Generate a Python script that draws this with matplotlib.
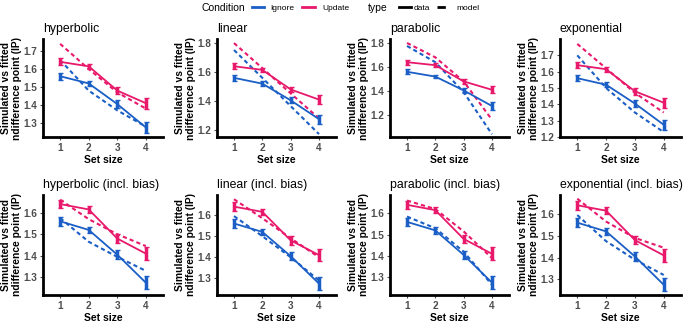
import matplotlib
matplotlib.use("Agg")
import matplotlib.pyplot as plt
from matplotlib.lines import Line2D

plt.rcParams["font.family"] = ["Liberation Sans", "DejaVu Sans"]

# ── Data ──────────────────────────────────────────────────────────────────────
set_size = [1, 2, 3, 4]

ignore_data = [1.560, 1.520, 1.405, 1.275]
ignore_err = [0.020, 0.015, 0.020, 0.030]
update_data = [1.640, 1.615, 1.480, 1.410]
update_err = [0.020, 0.015, 0.020, 0.030]

panel_titles = ["hyperbolic", "linear", "parabolic", "exponential",
                "hyperbolic (incl. bias)", "linear (incl. bias)",
                "parabolic (incl. bias)", "exponential (incl. bias)"]

model_ignore = [
    [1.650, 1.480, 1.370, 1.280],
    [1.752, 1.560, 1.365, 1.172],
    [1.775, 1.640, 1.390, 1.040],
    [1.700, 1.500, 1.350, 1.230],
    [1.575, 1.465, 1.395, 1.330],
    [1.595, 1.500, 1.400, 1.290],
    [1.585, 1.530, 1.420, 1.265],
    [1.595, 1.475, 1.390, 1.320],
]
model_update = [
    [1.740, 1.600, 1.470, 1.380],
    [1.800, 1.627, 1.453, 1.280],
    [1.800, 1.680, 1.480, 1.160],
    [1.770, 1.620, 1.470, 1.350],
    [1.660, 1.570, 1.500, 1.445],
    [1.675, 1.585, 1.490, 1.400],
    [1.660, 1.620, 1.515, 1.390],
    [1.670, 1.565, 1.490, 1.445],
]

ylims = [(1.222, 1.767), (1.152, 1.828), (1.017, 1.833), (1.200, 1.800),
         (1.218, 1.682), (1.221, 1.695), (1.217, 1.686), (1.228, 1.687)]
yticks = [[1.3, 1.4, 1.5, 1.6, 1.7], [1.2, 1.4, 1.6, 1.8], [1.2, 1.4, 1.6, 1.8],
          [1.2, 1.3, 1.4, 1.5, 1.6, 1.7],
          [1.3, 1.4, 1.5, 1.6], [1.3, 1.4, 1.5, 1.6], [1.3, 1.4, 1.5, 1.6],
          [1.3, 1.4, 1.5, 1.6]]

BLUE = "#1b5fc6"
PINK = "#e8186b"

# ── Layout (pixels) ───────────────────────────────────────────────────────────
W, H = 685, 323
lefts = [43, 217, 390, 560]
widths = [120, 119, 119, 121]
rows = [(39, 137), (195, 295)]

fig = plt.figure(figsize=(W / 100, H / 100), dpi=100)

for i, title in enumerate(panel_titles):
    r, c = divmod(i, 4)
    top, bot = rows[r]
    ax = fig.add_axes([lefts[c] / W, (H - bot) / H, widths[c] / W, (bot - top) / H])

    for data, err, model, col in [(ignore_data, ignore_err, model_ignore[i], BLUE),
                                  (update_data, update_err, model_update[i], PINK)]:
        ax.plot(set_size, model, color=col, lw=1.5, ls=(0, (2, 1.5)), zorder=2)
        ax.errorbar(set_size, data, yerr=err, color=col, lw=1.3, elinewidth=2.5,
                    capsize=1.8, capthick=1.0, zorder=3)

    ax.set_xlim(0.4, 4.6)
    ax.set_ylim(*ylims[i])
    ax.set_xticks(set_size)
    ax.set_yticks(yticks[i])
    ax.set_yticklabels([f"{t:.1f}" for t in yticks[i]])
    ax.tick_params(labelsize=7.2, colors="#4d4d4d", length=2.5, width=0.8, pad=1.5)
    for lab in ax.get_xticklabels() + ax.get_yticklabels():
        lab.set_fontweight("bold")
    ax.spines[["top", "right"]].set_visible(False)
    ax.spines[["left", "bottom"]].set_linewidth(2.0)
    ax.set_xlabel("Set size", fontsize=7.5, fontweight="bold", labelpad=1.5)
    ax.set_ylabel("Simulated vs fitted\nndifference point (IP)", fontsize=7.4,
                  fontweight="bold", labelpad=1, linespacing=1.1)
    ax.set_title(title, fontsize=8.8, loc="left", pad=5)

# ── Legend at top (drawn in figure pixels) ────────────────────────────────────
def fx(px):
    return px / W

LEG_Y = 1 - 7 / H
fig.text(fx(201), LEG_Y, "Condition", fontsize=7.5, va="center_baseline", ha="left")
fig.text(fx(368), LEG_Y, "type", fontsize=7.5, va="center_baseline", ha="left")

legend_keys = [
    (252, 264, BLUE, "-", "Ignore", 270),
    (302, 315, PINK, "-", "Update", 322),
    (399, 411, "black", "-", "data", 414),
    (437, 450, "black", (0, (3, 2)), "model", 456),
]
for x0, x1, col, ls, label, tx in legend_keys:
    fig.add_artist(Line2D([fx(x0), fx(x1)], [LEG_Y, LEG_Y], color=col, lw=2,
                          ls=ls, transform=fig.transFigure))
    fig.text(fx(tx), LEG_Y, label, fontsize=6, va="center_baseline", ha="left")

fig.savefig("out.png", dpi=100, facecolor="white")
